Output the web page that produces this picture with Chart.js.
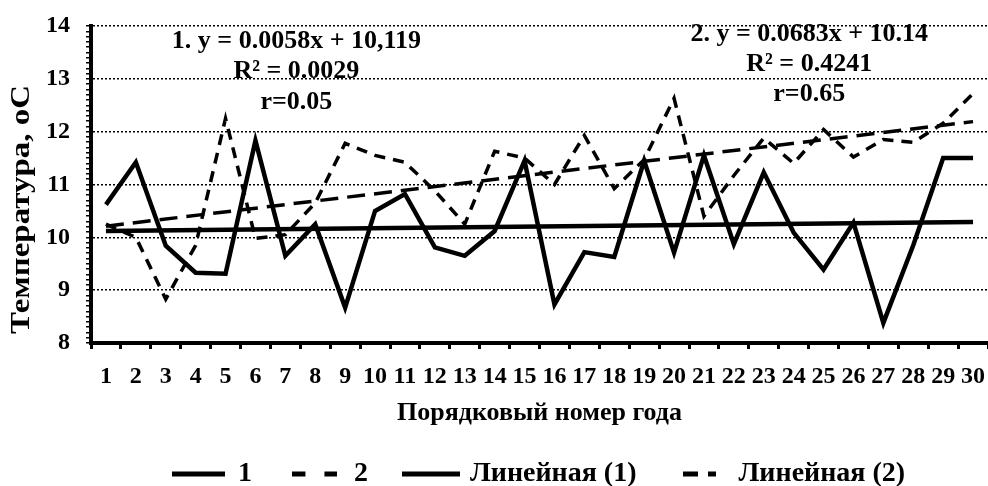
<!DOCTYPE html>
<html lang="ru">
<head>
  <meta charset="UTF-8" />
  <title>Температура по годам</title>
  <script src="https://cdn.jsdelivr.net/npm/chart.js"></script>
  <style>
    html, body { margin: 0; padding: 0; background: #fff; }
    #wrap { width: 988px; height: 486px; position: relative; }
  </style>
</head>
<body>
  <div id="wrap"><canvas id="tempChart"></canvas></div>

  <script>
    // --- data ---
    const years = ['1','2','3','4','5','6','7','8','9','10','11','12','13','14','15',
                   '16','17','18','19','20','21','22','23','24','25','26','27','28','29','30'];
    const series1 = [10.62, 11.42, 9.84, 9.33, 9.31, 11.83, 9.65, 10.25, 8.67, 10.5,
                     10.82, 9.81, 9.65, 10.12, 11.45, 8.73, 9.72, 9.63, 11.45, 9.71,
                     11.55, 9.87, 11.23, 10.09, 9.39, 10.28, 8.38, 9.85, 11.5, 11.5];
    const series2 = [10.25, 10.0, 8.83, 9.85, 12.25, 9.98, 10.05, 10.65, 11.78, 11.55,
                     11.42, 10.88, 10.25, 11.63, 11.5, 11.0, 11.93, 10.92, 11.47, 12.63,
                     10.4, 11.17, 11.88, 11.4, 12.04, 11.52, 11.85, 11.8, 12.16, 12.72];
    // trend lines: value at first and last year
    const trend1Ends = [10.12, 10.29];
    const trend2Ends = [10.21, 12.19];
    const seriesNames = ['1', '2', 'Линейная (1)', 'Линейная (2)'];
    const notes1 = ['1. y = 0.0058x + 10,119', 'R² = 0.0029', 'r=0.05'];
    const notes2 = ['2. y = 0.0683x + 10.14', 'R² = 0.4241', 'r=0.65'];

    const FONT = '"Liberation Serif", "Times New Roman", serif';
    Chart.defaults.font.family = FONT;
    Chart.defaults.color = '#000';

    function endsOnly(ends) {
      return years.map((_, i) => i === 0 ? ends[0] : (i === years.length - 1 ? ends[1] : null));
    }
    const isWhole = v => Math.abs(v - Math.round(v)) < 1e-6;

    // small canvases used as legend symbols (solid / dashed strokes)
    function legendLine(w, dash) {
      const c = document.createElement('canvas');
      c.width = w; c.height = 6;
      const g = c.getContext('2d');
      g.strokeStyle = '#000';
      g.lineWidth = 5;
      g.setLineDash(dash);
      g.beginPath(); g.moveTo(0, 3); g.lineTo(w, 3); g.stroke();
      return c;
    }
    const legendIcons = [legendLine(53, []), legendLine(45, [13, 19]), legendLine(58, []), legendLine(33, [15, 10])];

    // equations + y axis title
    const notesPlugin = {
      id: 'notes',
      afterDraw(chart) {
        const { ctx, chartArea, scales: { x, y } } = chart;
        ctx.save();
        ctx.fillStyle = '#000';
        ctx.textAlign = 'center';
        ctx.textBaseline = 'middle';
        ctx.font = 'bold 26px ' + FONT;
        const rows1 = [13.72, 13.15, 12.56];
        const rows2 = [13.85, 13.28, 12.71];
        notes1.forEach((t, i) => ctx.fillText(t, x.getPixelForValue(6.37), y.getPixelForValue(rows1[i])));
        notes2.forEach((t, i) => ctx.fillText(t, x.getPixelForValue(23.52), y.getPixelForValue(rows2[i])));

        ctx.translate(22, (chartArea.top + chartArea.bottom) / 2 + 25);
        ctx.rotate(-Math.PI / 2);
        ctx.scale(1.22, 1);
        ctx.font = 'bold 27px ' + FONT;
        ctx.fillText('Температура, оС', 0, 0);
        ctx.restore();
      }
    };

    new Chart(document.getElementById('tempChart'), {
      type: 'line',
      data: {
        labels: years,
        datasets: [
          { label: seriesNames[0], data: series1, borderColor: '#000', borderWidth: 4.5 },
          { label: seriesNames[1], data: series2, borderColor: '#000', borderWidth: 3.5, borderDash: [11, 8] },
          { label: seriesNames[2], data: endsOnly(trend1Ends), borderColor: '#000', borderWidth: 4.5, spanGaps: true },
          { label: seriesNames[3], data: endsOnly(trend2Ends), borderColor: '#000', borderWidth: 3.5, borderDash: [18, 9], spanGaps: true }
        ]
      },
      options: {
        responsive: true,
        maintainAspectRatio: false,
        animation: false,
        elements: { point: { radius: 0, hoverRadius: 0 }, line: { tension: 0, fill: false } },
        layout: { padding: { top: 26, right: 0, left: 0, bottom: -12 } },
        plugins: {
          tooltip: { enabled: false },
          legend: {
            position: 'bottom',
            fullSize: false,
            labels: {
              usePointStyle: true,
              pointStyleWidth: 50,
              boxHeight: 28,
              padding: 38,
              color: '#000',
              font: { size: 28, weight: 'bold' },
              generateLabels(chart) {
                return Chart.defaults.plugins.legend.labels.generateLabels(chart)
                  .map((item, i) => Object.assign(item, { pointStyle: legendIcons[i] }));
              }
            }
          }
        },
        scales: {
          x: {
            offset: true,
            afterFit(scale) { scale.paddingLeft = 0; scale.paddingRight = 0; },
            grid: { offset: true, drawOnChartArea: false, tickLength: 6, tickWidth: 3, tickColor: '#000' },
            border: { color: '#000', width: 4 },
            ticks: { autoSkip: false, maxRotation: 0, padding: 13, color: '#000', font: { size: 24, weight: 'bold' } },
            title: { display: true, text: 'Порядковый номер года', color: '#000', padding: { top: -6, bottom: -7 },
                     font: { size: 26, weight: 'bold' } }
          },
          y: {
            min: 8,
            max: 14,
            afterFit(scale) { scale.width = 91; scale.paddingTop = 0; scale.paddingBottom = 0; },
            ticks: {
              stepSize: 0.1, autoSkip: false, maxTicksLimit: 100, padding: 16, color: '#000',
              font: { size: 24, weight: 'bold' },
              callback: v => isWhole(v) ? String(Math.round(v)) : ''
            },
            grid: {
              color: c => isWhole(c.tick.value) ? '#000' : 'rgba(0,0,0,0)',
              lineWidth: 1.5,
              tickColor: '#000',
              tickLength: 5,
              tickWidth: 1.5,
              tickBorderDash: []
            },
            border: { color: '#000', width: 4, dash: [2, 2] }
          }
        }
      },
      plugins: [notesPlugin]
    });
  </script>
</body>
</html>
